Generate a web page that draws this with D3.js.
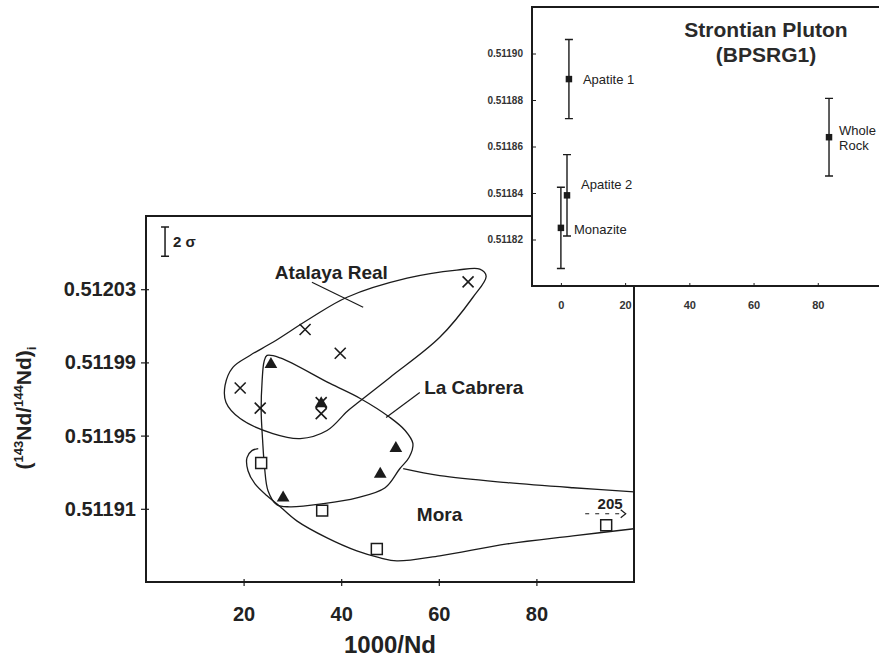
<!DOCTYPE html>
<html>
<head>
<meta charset="utf-8">
<script src="https://cdn.jsdelivr.net/npm/d3@7"></script>
<style>
  body { margin: 0; background: #fff; }
  svg { display: block; font-family: "Liberation Sans", Arial, sans-serif; }
</style>
</head>
<body>
<svg id="chart" width="879" height="658"></svg>
<script>
// main diagram: 1000/Nd vs (143Nd/144Nd)i
const atalayaX = [66.0, 32.6, 39.8, 19.3, 23.4, 35.9, 35.9];
const atalayaY = [0.512034, 0.512008, 0.511995, 0.511976, 0.511965, 0.511968, 0.511962];
const cabreraX = [25.6, 35.9, 51.2, 48.0, 28.1];
const cabreraY = [0.511989, 0.5119675, 0.511943, 0.511929, 0.511916];
const moraX = [23.6, 36.1, 47.3, 94.3];
const moraY = [0.511935, 0.511909, 0.511888, 0.511901];

const mainXTicks = [20, 40, 60, 80];
const mainYTicks = [0.51191, 0.51195, 0.51199, 0.51203];
const twoSigma = 0.000016;

// hand drawn field outlines, [1000/Nd, ratio]
const atalayaField = [
  [16.2, 0.5119774], [17.8, 0.5119873], [21.3, 0.5119938], [26.0, 0.5120010],
  [33.6, 0.5120140], [41.2, 0.5120256], [53.5, 0.5120360], [63.7, 0.5120404],
  [68.4, 0.5120410], [69.7, 0.5120371], [67.0, 0.5120256], [60.2, 0.5120037],
  [50.0, 0.5119818], [43.2, 0.5119675], [41.2, 0.5119632], [37.1, 0.5119528],
  [31.6, 0.5119484], [26.0, 0.5119511], [19.3, 0.5119593], [16.4, 0.5119681]
];
const cabreraField = [
  [24.8, 0.5119938], [27.5, 0.5119925], [37.7, 0.5119785], [43.9, 0.5119703],
  [50.0, 0.5119599], [53.1, 0.5119528], [54.7, 0.5119456], [53.9, 0.5119380],
  [52.0, 0.5119319], [49.0, 0.5119215], [43.2, 0.5119160], [36.3, 0.5119128],
  [29.5, 0.5119111], [26.8, 0.5119122], [25.0, 0.5119199], [24.3, 0.5119325],
  [23.9, 0.5119473], [23.6, 0.5119637], [23.8, 0.5119801], [24.2, 0.5119905]
];
const moraUpper = [
  [52.7, 0.5119319], [60.2, 0.5119281], [74.0, 0.5119243], [87.5, 0.5119215], [100, 0.5119193]
];
const moraLower = [
  [23.0, 0.5119429], [21.7, 0.5119418], [20.7, 0.5119380], [20.9, 0.5119308],
  [22.3, 0.5119237], [24.8, 0.5119171], [26.8, 0.5119128], [30.9, 0.5119034],
  [37.1, 0.5118941], [43.2, 0.5118870], [48.0, 0.5118832], [51.4, 0.5118815],
  [60.2, 0.5118843], [74.0, 0.5118908], [87.5, 0.5118952], [100, 0.5118991]
];

// inset: Strontian Pluton (BPSRG1)
const insetNames = ["Apatite 1", "Apatite 2", "Monazite", "Whole Rock"];
const insetX = [2.5, 1.9, 0, 83.5];
const insetY = [0.511889, 0.511839, 0.511825, 0.511864];
const insetErr = [0.000017, 0.0000175, 0.0000175, 0.0000167];
const insetXTicks = [0, 20, 40, 60, 80];
const insetYTicks = [0.51182, 0.51184, 0.51186, 0.51188, 0.51190];

const svg = d3.select("#chart");
const ink = "#1b1b1b";

const x = d3.scaleLinear().domain([0, 100]).range([146, 634]);
const y = d3.scaleLinear().domain([0.51187, 0.51207]).range([582, 216]);

svg.append("defs").append("clipPath").attr("id", "plotClip")
  .append("rect")
  .attr("x", x(0)).attr("y", y(0.51207))
  .attr("width", x(100) - x(0)).attr("height", y(0.51187) - y(0.51207));

const main = svg.append("g");

// frame
main.append("rect")
  .attr("x", x(0)).attr("y", y(0.51207))
  .attr("width", x(100) - x(0)).attr("height", y(0.51187) - y(0.51207))
  .attr("fill", "none").attr("stroke", ink).attr("stroke-width", 2);

// axes
const yAxis = main.append("g")
  .attr("transform", `translate(${x(0)},0)`)
  .call(d3.axisLeft(y).tickValues(mainYTicks).tickFormat(d3.format(".5f"))
    .tickSizeInner(5).tickSizeOuter(0).tickPadding(5));
yAxis.select(".domain").remove();
yAxis.selectAll(".tick line").attr("x2", -5).attr("x1", 3).attr("stroke", ink).attr("stroke-width", 1.2);
yAxis.selectAll(".tick text")
  .attr("font-size", 20).attr("font-weight", "bold").attr("fill", "#222")
  .attr("font-family", "Liberation Sans, Arial, sans-serif");

const xAxis = main.append("g")
  .attr("transform", `translate(0,${y(0.51187)})`)
  .call(d3.axisBottom(x).tickValues(mainXTicks).tickFormat(d3.format("d"))
    .tickSizeInner(4).tickSizeOuter(0).tickPadding(21));
xAxis.select(".domain").remove();
xAxis.selectAll(".tick line").attr("y1", -3).attr("stroke", ink).attr("stroke-width", 1.2);
xAxis.selectAll(".tick text")
  .attr("font-size", 20).attr("font-weight", "bold").attr("fill", "#222")
  .attr("font-family", "Liberation Sans, Arial, sans-serif");

// axis titles
main.append("text")
  .attr("x", (x(0) + x(100)) / 2).attr("y", 653)
  .attr("text-anchor", "middle")
  .attr("font-size", 24).attr("font-weight", "bold").attr("fill", "#222")
  .text("1000/Nd");

const yTitle = main.append("text")
  .attr("transform", "translate(31,408) rotate(-90)")
  .attr("text-anchor", "middle")
  .attr("font-size", 21).attr("font-weight", "bold").attr("fill", "#222");
yTitle.append("tspan").text("(");
yTitle.append("tspan").attr("font-size", 13).attr("dy", -8).text("143");
yTitle.append("tspan").attr("dy", 8).text("Nd/");
yTitle.append("tspan").attr("font-size", 13).attr("dy", -8).text("144");
yTitle.append("tspan").attr("dy", 8).text("Nd)");
yTitle.append("tspan").attr("font-size", 13).attr("dy", 5).text("i");

// 2 sigma bar
const sigX = x(3.9), sigMid = 0.512056;
main.append("path")
  .attr("d", `M${sigX},${y(sigMid + twoSigma / 2)}V${y(sigMid - twoSigma / 2)}` +
    `M${sigX - 4},${y(sigMid + twoSigma / 2)}h8M${sigX - 4},${y(sigMid - twoSigma / 2)}h8`)
  .attr("stroke", ink).attr("stroke-width", 1.5).attr("fill", "none");
main.append("text")
  .attr("x", sigX + 8).attr("y", y(sigMid) + 5)
  .attr("font-size", 15).attr("font-weight", "bold").attr("fill", "#222")
  .text("2 σ");

// field outlines
const fields = main.append("g").attr("clip-path", "url(#plotClip)")
  .attr("fill", "none").attr("stroke", ink).attr("stroke-width", 1.3);

const closedLine = d3.line().x(d => x(d[0])).y(d => y(d[1]))
  .curve(d3.curveCatmullRomClosed.alpha(0.5));
const openLine = d3.line().x(d => x(d[0])).y(d => y(d[1]))
  .curve(d3.curveCatmullRom.alpha(0.5));

fields.append("path").attr("d", closedLine(atalayaField));
fields.append("path").attr("d", closedLine(cabreraField));
fields.append("path").attr("d", openLine(moraUpper));
fields.append("path").attr("d", openLine(moraLower));

// labels with leader lines
main.append("line")
  .attr("x1", x(34.0)).attr("y1", y(0.5120338))
  .attr("x2", x(44.5)).attr("y2", y(0.5120201))
  .attr("stroke", ink).attr("stroke-width", 1.2);
main.append("line")
  .attr("x1", x(56.1)).attr("y1", y(0.5119736))
  .attr("x2", x(49.2)).attr("y2", y(0.5119599))
  .attr("stroke", ink).attr("stroke-width", 1.2);

const labelStyle = sel => sel
  .attr("font-size", 19).attr("font-weight", "bold").attr("fill", "#222");
main.append("text").attr("x", x(26.4)).attr("y", y(0.5120355)).call(labelStyle).text("Atalaya Real");
main.append("text").attr("x", x(57.0)).attr("y", y(0.5119730)).call(labelStyle).text("La Cabrera");
main.append("text").attr("x", x(55.5)).attr("y", y(0.5119034)).call(labelStyle).text("Mora");

// off-scale sample at 205
const arrY = y(0.5119073);
main.append("line")
  .attr("x1", x(90.0)).attr("y1", arrY).attr("x2", x(98.3)).attr("y2", arrY)
  .attr("stroke", ink).attr("stroke-width", 1.2).attr("stroke-dasharray", "4,6");
main.append("path")
  .attr("d", `M${x(98.3) - 5},${arrY - 4}L${x(98.3)},${arrY}L${x(98.3) - 5},${arrY + 4}`)
  .attr("fill", "none").attr("stroke", ink).attr("stroke-width", 1.2);
main.append("text")
  .attr("x", x(95.1)).attr("y", y(0.5119100))
  .attr("text-anchor", "middle")
  .attr("font-size", 15).attr("font-weight", "bold").attr("fill", "#222")
  .text("205");

// markers
const pts = main.append("g");
pts.selectAll(".atalaya").data(atalayaX).join("path")
  .attr("class", "atalaya")
  .attr("d", (d, i) => {
    const px = x(d), py = y(atalayaY[i]), r = 5.5;
    return `M${px - r},${py - r}L${px + r},${py + r}M${px - r},${py + r}L${px + r},${py - r}`;
  })
  .attr("stroke", ink).attr("stroke-width", 1.6).attr("fill", "none");

pts.selectAll(".cabrera").data(cabreraX).join("path")
  .attr("class", "cabrera")
  .attr("transform", (d, i) => `translate(${x(d)},${y(cabreraY[i])})`)
  .attr("d", d3.symbol(d3.symbolTriangle, 70))
  .attr("fill", ink);

pts.selectAll(".mora").data(moraX).join("path")
  .attr("class", "mora")
  .attr("transform", (d, i) => `translate(${x(d)},${y(moraY[i])})`)
  .attr("d", d3.symbol(d3.symbolSquare, 120))
  .attr("fill", "#fff").attr("stroke", ink).attr("stroke-width", 1.5);

// inset panel
const xi = d3.scaleLinear().domain([-9, 100]).range([532, 882]);
const yi = d3.scaleLinear().domain([0.51180, 0.51192]).range([286, 7]);

const inset = svg.append("g");
inset.append("rect")
  .attr("x", xi(-9)).attr("y", yi(0.51192))
  .attr("width", xi(100) - xi(-9)).attr("height", yi(0.51180) - yi(0.51192))
  .attr("fill", "#fff").attr("stroke", ink).attr("stroke-width", 2);

const yiAxis = inset.append("g")
  .attr("transform", `translate(${xi(-9)},0)`)
  .call(d3.axisLeft(yi).tickValues(insetYTicks).tickFormat(d3.format(".5f"))
    .tickSizeInner(-4).tickSizeOuter(0).tickPadding(9));
yiAxis.select(".domain").remove();
yiAxis.selectAll(".tick line").attr("stroke", ink);
yiAxis.selectAll(".tick text")
  .attr("font-size", 10).attr("font-weight", "bold").attr("fill", "#333")
  .attr("font-family", "Liberation Sans, Arial, sans-serif");

const xiAxis = inset.append("g")
  .attr("transform", `translate(0,${yi(0.51180)})`)
  .call(d3.axisBottom(xi).tickValues(insetXTicks).tickFormat(d3.format("d"))
    .tickSizeInner(-3).tickSizeOuter(0).tickPadding(15));
xiAxis.select(".domain").remove();
xiAxis.selectAll(".tick line").attr("stroke", ink);
xiAxis.selectAll(".tick text")
  .attr("font-size", 11).attr("font-weight", "bold").attr("fill", "#333")
  .attr("font-family", "Liberation Sans, Arial, sans-serif");

inset.append("text")
  .attr("x", 766).attr("y", 37).attr("text-anchor", "middle")
  .attr("font-size", 21).attr("font-weight", "bold").attr("fill", "#2a2a2a").text("Strontian Pluton");
inset.append("text")
  .attr("x", 766).attr("y", 62).attr("text-anchor", "middle")
  .attr("font-size", 21).attr("font-weight", "bold").attr("fill", "#2a2a2a").text("(BPSRG1)");

// error bars and samples
const bars = inset.selectAll(".ebar").data(insetX).join("g").attr("class", "ebar");
bars.append("path")
  .attr("d", (d, i) => {
    const px = xi(d), top = yi(insetY[i] + insetErr[i]), bot = yi(insetY[i] - insetErr[i]);
    return `M${px},${top}V${bot}M${px - 4},${top}h8M${px - 4},${bot}h8`;
  })
  .attr("stroke", ink).attr("stroke-width", 1.4).attr("fill", "none");
bars.append("path")
  .attr("transform", (d, i) => `translate(${xi(d)},${yi(insetY[i])})`)
  .attr("d", d3.symbol(d3.symbolSquare, 42))
  .attr("fill", ink);

const insetLabel = [
  { dx: 14, dy: 5 }, { dx: 14, dy: -6 }, { dx: 13, dy: 6 }, { dx: 10, dy: -2 }
];
bars.append("text")
  .attr("x", (d, i) => xi(d) + insetLabel[i].dx)
  .attr("y", (d, i) => yi(insetY[i]) + insetLabel[i].dy)
  .attr("font-size", 13).attr("fill", "#222")
  .each(function (d, i) {
    const words = insetNames[i] === "Whole Rock" ? ["Whole", "Rock"] : [insetNames[i]];
    const t = d3.select(this);
    words.forEach((w, k) => {
      t.append("tspan").attr("x", xi(d) + insetLabel[i].dx).attr("dy", k ? 15 : 0).text(w);
    });
  });
</script>
</body>
</html>
